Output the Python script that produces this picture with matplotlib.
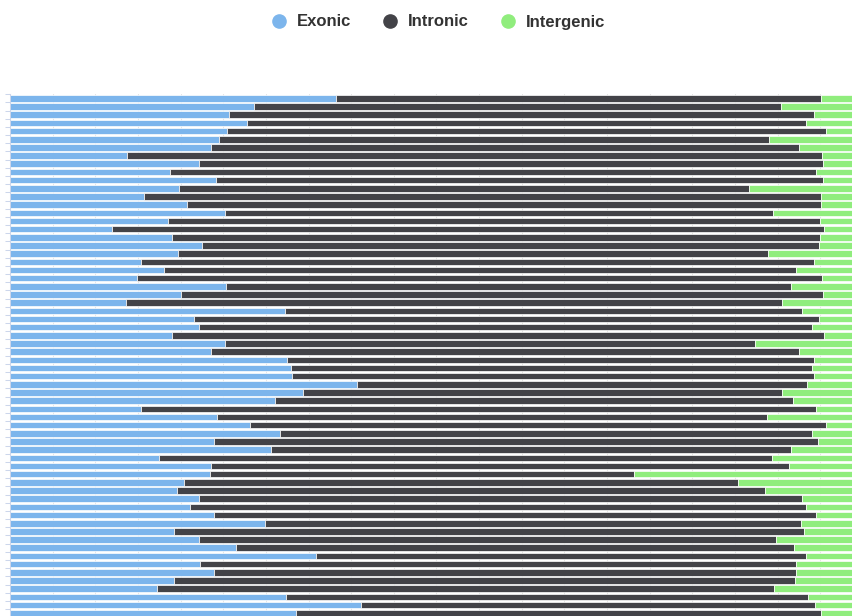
import numpy as np
import matplotlib.pyplot as plt
from matplotlib.lines import Line2D

# share of each region type per sample (percent), top row first
exonic = [38.2, 28.6, 25.7, 27.8, 25.4, 24.5, 23.6, 13.7, 22.2, 18.7,
          24.2, 19.8, 15.7, 20.7, 25.2, 18.5, 12.0, 19.0, 22.5, 19.7,
          15.3, 18.1, 14.9, 25.3, 20.1, 13.6, 32.2, 21.6, 22.2, 19.0,
          25.2, 23.6, 32.5, 33.0, 33.1, 40.7, 34.3, 31.1, 15.3, 24.3,
          28.1, 31.7, 23.9, 30.6, 17.5, 23.6, 23.5, 20.4, 19.6, 22.1,
          21.1, 23.9, 29.9, 19.2, 22.2, 26.5, 35.9, 22.3, 23.9, 19.2,
          17.2, 32.4, 41.2, 33.5]
intronic = [56.9, 61.8, 68.5, 65.5, 70.3, 64.5, 68.9, 81.5, 73.1, 75.8,
            71.1, 66.8, 79.4, 74.4, 64.2, 76.5, 83.4, 76.0, 72.3, 69.2,
            79.0, 74.1, 80.3, 66.3, 75.2, 76.9, 60.7, 73.3, 71.8, 76.4,
            62.1, 68.9, 61.8, 61.0, 61.1, 52.7, 56.2, 60.7, 79.2, 64.5,
            67.6, 62.3, 70.8, 61.0, 71.8, 67.7, 49.6, 65.0, 68.9, 70.8,
            72.2, 70.6, 62.8, 73.9, 67.6, 65.4, 57.4, 69.8, 68.3, 72.8,
            72.4, 61.2, 53.2, 61.6]
intergenic = [4.9, 9.6, 5.8, 6.7, 4.3, 11.0, 7.5, 4.8, 4.7, 5.5,
              4.7, 13.4, 4.9, 4.9, 10.6, 5.0, 4.6, 5.0, 5.2, 11.1,
              5.7, 7.8, 4.8, 8.4, 4.7, 9.5, 7.1, 5.1, 6.0, 4.6,
              12.7, 7.5, 5.7, 6.0, 5.8, 6.6, 9.5, 8.2, 5.5, 11.2,
              4.3, 6.0, 5.3, 8.4, 10.7, 8.7, 26.9, 14.6, 11.5, 7.1,
              6.7, 5.5, 7.3, 6.9, 10.2, 8.1, 6.7, 7.9, 7.8, 8.0,
              10.4, 6.4, 5.6, 4.9]
names = ["Exonic", "Intronic", "Intergenic"]
colors = ["#7cb5ec", "#434348", "#90ed7d"]

W, H = 852, 616
fig = plt.figure(figsize=(W/100, H/100), dpi=100)
# plot area runs past the right and bottom edges of the image
ax = fig.add_axes([10/W, 1 - 617.2/H, 853/W, 522.9/H])

y = np.arange(len(exonic))
left = np.zeros(len(exonic))
for vals, c in zip([exonic, intronic, intergenic], colors):
    ax.barh(y, vals, left=left, height=0.8, color=c,
            edgecolor="white", linewidth=0.5, zorder=2)
    left = left + np.array(vals)

ax.set_xlim(0, 100)
ax.set_ylim(len(exonic) - 0.5, -0.5)
ax.set_xticks(np.arange(0, 101, 5))
ax.xaxis.grid(True, color="#e6e6e6", linewidth=0.75)
ax.set_axisbelow(True)
ax.tick_params(axis="x", length=0, labelbottom=False)
ax.set_yticks(np.arange(-0.5, len(exonic), 1))
ax.set_yticklabels([])
ax.tick_params(axis="y", length=3.6, width=0.75, color="#ccd6eb")
for s in ["top", "right", "bottom"]:
    ax.spines[s].set_visible(False)
ax.spines["left"].set_color("#ccd6eb")
ax.spines["left"].set_linewidth(0.75)

# legend along the top
leg_y = 1 - 21/H
base_y = 1 - 26.5/H
for name, c, cx in zip(names, colors, [279, 390, 508]):
    fig.add_artist(Line2D([cx/W], [leg_y], marker="o", markersize=9.5,
                          color=c, linestyle="none", transform=fig.transFigure))
    fig.text((cx + 18)/W, base_y, name, fontsize=12, fontweight="bold",
             family="Liberation Sans", color="#333333", va="baseline", ha="left")

fig.savefig("out.png", dpi=100)
